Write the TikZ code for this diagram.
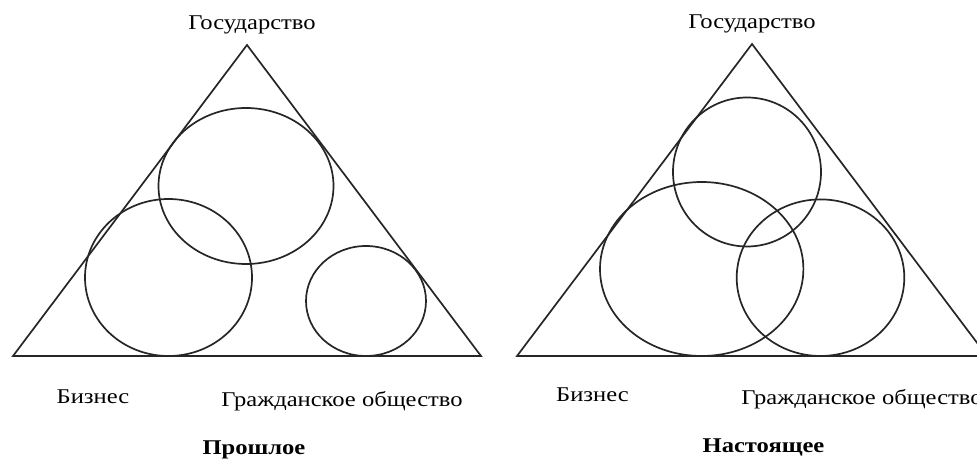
\documentclass[tikz,border=0pt]{standalone}
\usepackage{fontspec}
\setmainfont[FakeStretch=1.17]{Liberation Serif}
\begin{document}
\begin{tikzpicture}[x=1pt,y=-1pt,
  shape line/.style={line width=1.7pt,black!85},
  lbl/.style={font=\fontsize{21}{24}\selectfont,inner sep=0pt,anchor=base},
  ttl/.style={font=\fontsize{21}{24}\selectfont\bfseries,inner sep=0pt,anchor=base}]
\useasboundingbox (0,0) rectangle (977,462);
% left panel
\draw[shape line,line join=miter] (247,45) -- (481,356) -- (13,356) -- cycle;
\draw[shape line] (246,186) ellipse [x radius=87.5, y radius=78];
\draw[shape line] (168.5,277.5) ellipse [x radius=83.5, y radius=78.5];
\draw[shape line] (366,301) ellipse [x radius=60, y radius=55];
\node[lbl] (gosL) at (252,30) {Государство};
\node[lbl] (bizL) at (93,403) {Бизнес};
\node[lbl] (grL) at (342,406) {Гражданское общество};
\node[ttl] (past) at (254,454) {Прошлое};
% right panel
\draw[shape line,line join=miter] (752,44) -- (987,356) -- (517,356) -- cycle;
\draw[shape line] (747,172) ellipse [x radius=74, y radius=74.5];
\draw[shape line] (701.7,269) ellipse [x radius=101.7, y radius=87];
\draw[shape line] (820.5,277.7) ellipse [x radius=83.8, y radius=78.3];
\node[lbl] (gosR) at (752,29) {Государство};
\node[lbl] (bizR) at (592.5,401) {Бизнес};
\node[lbl] (grR) at (862,404) {Гражданское общество};
\node[ttl] (pres) at (763.5,452) {Настоящее};
\end{tikzpicture}
\end{document}
